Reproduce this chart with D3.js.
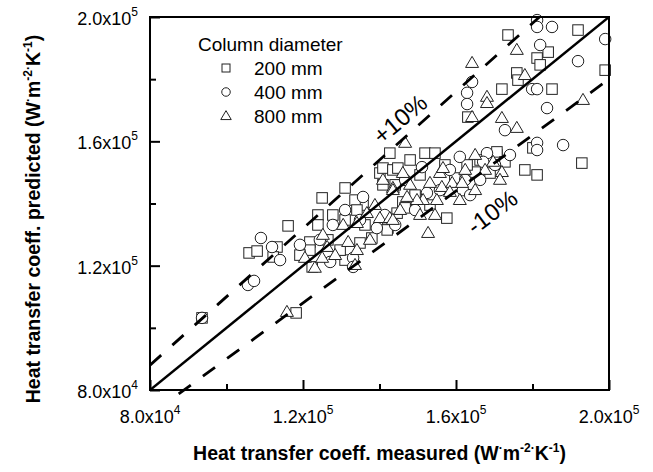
<!DOCTYPE html>
<html><head><meta charset="utf-8">
<script src="https://d3js.org/d3.v7.min.js"></script>
<style>
  body { margin: 0; background: #fff; }
  svg { display: block; font-family: "Liberation Sans", Arial, sans-serif; }
</style></head>
<body>
<svg width="653" height="472"></svg>
<script>
// all values in 10^3 W m^-2 K^-1, [measured, predicted]
const d200 = [[93.6,103.2],[105.9,124.1],[108.0,124.7],[113.2,126.0],[112.2,122.8],[116.1,132.8],[118.2,104.8],[125.0,141.8],
  [131.0,145.0],[123.9,136.3],[123.9,133.1],[127.8,136.3],[121.8,127.6],[121.8,125.0],[122.4,119.6],[131.0,134.7],[131.0,121.8],
  [134.9,127.3],[135.7,139.5],[133.6,141.1],[134.1,137.9],[142.2,132.1],[140.1,149.8],[140.9,151.4],[143.5,150.8],[140.9,146.0],
  [142.7,156.2],[144.8,151.4],[148.0,154.0],[151.9,156.2],[154.5,156.2],[146.1,140.5],[144.6,136.9],[142.0,131.5],[146.7,138.6],
  [157.6,135.3],[165.0,150.1],[168.9,149.8],[170.7,155.6],[173.6,194.2],[175.9,182.0],[176.2,179.7],[184.1,188.7],[181.2,186.8],
  [182.0,184.6],[191.9,195.8],[199.0,182.9],[172.0,176.8],[185.1,176.8],[163.1,167.8],[180.1,157.9],[178.0,150.8],[181.2,149.2],
  [192.9,153.0],[170.7,156.6],[136.2,133.1],[138.0,128.9],[144.1,146.0],[149.3,142.7],[150.6,149.2],[157.1,152.4],[159.7,148.2],
  [162.9,152.4],[166.3,154.0],[172.8,153.4],[153.2,139.5],[119.2,123.4],[126.5,128.3],[129.7,125.0]];
const d400 = [[93.6,103.2],[105.6,113.8],[107.2,115.1],[109.0,128.9],[111.9,126.0],[114.0,121.8],[127.8,133.1],[127.1,121.2],
  [133.1,122.5],[133.1,119.6],[131.0,137.9],[135.7,142.1],[139.3,132.1],[151.1,151.7],[152.4,143.4],[161.0,155.0],[168.1,156.2],
  [167.1,153.4],[162.4,147.6],[166.3,147.6],[161.8,144.3],[181.2,199.0],[181.2,196.8],[185.1,196.8],[199.0,192.9],[182.0,191.0],
  [191.9,185.8],[179.9,176.8],[181.2,176.8],[183.8,170.7],[172.8,163.6],[181.2,159.5],[181.2,157.2],[188.0,158.8],[164.2,179.1],
  [162.9,175.6],[162.9,172.0],[134.9,134.7],[141.4,136.3],[146.7,147.6],[155.8,144.3],[158.4,150.8],[163.7,142.7],[170.2,152.4],
  [174.1,155.6],[124.4,128.3],[119.2,126.7],[144.1,133.1],[149.3,137.9]];
const d800 = [[115.8,105.1],[125.2,129.9],[120.5,122.5],[125.0,122.5],[126.3,126.0],[131.8,127.6],[134.1,125.0],[130.5,133.1],
  [134.1,133.7],[136.7,136.9],[140.1,135.3],[142.7,135.3],[140.9,147.6],[143.5,145.0],[146.7,159.5],[146.1,149.8],[155.8,149.8],
  [156.6,151.4],[153.2,146.6],[156.3,145.3],[159.0,146.6],[151.4,141.1],[155.0,141.1],[149.8,141.1],[158.4,143.7],[165.0,155.6],
  [169.7,153.4],[172.0,150.1],[161.6,146.6],[152.7,130.5],[143.5,144.3],[147.2,142.1],[143.5,134.7],[164.2,185.2],[175.9,189.4],
  [178.0,181.3],[164.2,167.8],[168.1,174.3],[168.1,172.3],[172.0,167.5],[175.9,164.3],[193.2,173.3],[128.4,123.4],[137.5,128.3],
  [145.4,137.9],[148.0,146.0],[150.6,136.3],[161.0,141.1],[165.0,144.3],[167.6,150.8],[133.6,120.2],[123.1,119.3],[138.8,139.5],
  [154.5,136.3],[162.4,150.8],[171.5,147.6]];
const majorTicks = [80, 120, 160, 200];
const minorTicks = [100, 140, 180];
const legendTitle = "Column diameter";
const legendLabels = ["200 mm", "400 mm", "800 mm"];

const svg = d3.select("svg");
const m = { l: 150, t: 17, r: 609, b: 390 };
const x = d3.scaleLinear().domain([80, 200]).range([m.l, m.r]);
const y = d3.scaleLinear().domain([80, 200]).range([m.b, m.t]);

svg.append("clipPath").attr("id", "clip").append("rect")
  .attr("x", m.l).attr("y", m.t).attr("width", m.r - m.l).attr("height", m.b - m.t + 6);

// markers
const stroke = "#222";
function square(g, s) { g.append("rect").attr("x", -s/2).attr("y", -s/2).attr("width", s).attr("height", s); }
function circle(g, s) { g.append("circle").attr("r", s/2); }
function triangle(g, s) { const h = s * 0.85; g.append("path").attr("d", `M0,${-h*0.6}L${s/2},${h*0.4}L${-s/2},${h*0.4}Z`); }
const shapes = [square, circle, triangle];
const sizes = [10.5, 11.5, 13];

[d200, d400, d800].forEach((data, i) => {
  svg.append("g").selectAll("g").data(data).enter().append("g")
    .attr("transform", d => `translate(${x(d[0])},${y(d[1])})`)
    .attr("fill", "#fff").attr("stroke", stroke).attr("stroke-width", 1)
    .each(function () { shapes[i](d3.select(this), sizes[i]); });
});

// reference lines (y = x, +10 %, -10 %)
const lines = svg.append("g").attr("clip-path", "url(#clip)").attr("fill", "none").attr("stroke", "#000");
lines.append("line").attr("x1", x(80)).attr("y1", y(80)).attr("x2", x(200)).attr("y2", y(200)).attr("stroke-width", 2.5);
lines.append("line").attr("x1", x(80)).attr("y1", y(80 * 1.1)).attr("x2", x(200 / 1.1)).attr("y2", y(200))
  .attr("stroke-width", 2.8).attr("stroke-dasharray", "15,15");
lines.append("line").attr("x1", x(87.5)).attr("y1", y(87.5 * 0.9)).attr("x2", x(200)).attr("y2", y(200 * 0.9))
  .attr("stroke-width", 2.8).attr("stroke-dasharray", "15,15");

svg.append("text").attr("transform", "translate(400,119) rotate(-40)").attr("text-anchor", "middle")
  .attr("dy", "0.35em").attr("font-size", 24).text("+10%");
svg.append("text").attr("transform", "translate(492,212) rotate(-37)").attr("text-anchor", "middle")
  .attr("dy", "0.35em").attr("font-size", 24).text("-10%");

// axes
const ax = svg.append("g");
function ticks(axis, size) {
  return g => { g.call(axis.tickSize(size).tickFormat("")); g.select(".domain").remove();
    g.selectAll("line").attr("stroke", "#000").attr("stroke-width", 2); };
}
ax.append("g").attr("transform", `translate(0,${m.b})`).call(ticks(d3.axisBottom(x).tickValues(majorTicks), -10));
ax.append("g").attr("transform", `translate(0,${m.b})`).call(ticks(d3.axisBottom(x).tickValues(minorTicks), -6));
ax.append("g").attr("transform", `translate(${m.l},0)`).call(ticks(d3.axisLeft(y).tickValues(majorTicks), -10));
ax.append("g").attr("transform", `translate(${m.l},0)`).call(ticks(d3.axisLeft(y).tickValues(minorTicks), -6));
ax.append("rect").attr("x", m.l).attr("y", m.t).attr("width", m.r - m.l).attr("height", m.b - m.t)
  .attr("fill", "none").attr("stroke", "#000").attr("stroke-width", 2);

function sciParts(v) {
  const val = v * 1000, e = Math.floor(Math.log10(val));
  return [(val / Math.pow(10, e)).toFixed(1) + "x10", String(e)];
}
function tickLabel(px, py, anchor, v) {
  const p = sciParts(v);
  const t = svg.append("text").attr("x", px).attr("y", py).attr("text-anchor", anchor).attr("font-size", 18);
  t.append("tspan").text(p[0]);
  t.append("tspan").attr("dy", -9).attr("font-size", 12).text(p[1]);
}
majorTicks.forEach(v => tickLabel(x(v), 423, "middle", v));
majorTicks.forEach(v => tickLabel(m.l - 12, y(v) + 8, "end", v));

// axis titles with superscripts
function richText(t, parts) {
  let prevSup = 0;
  parts.forEach(([s, sup]) => {
    const dy = sup ? (prevSup ? 0 : -8) : (prevSup ? 8 : 0);
    t.append("tspan").attr("dy", dy).attr("font-size", sup ? 12 : null).text(s);
    prevSup = sup;
  });
}
const unit = [[" (W", 0], ["\u00b7", 1], ["m", 0], ["-2\u00b7", 1], ["K", 0], ["-1", 1], [")", 0]];
richText(svg.append("text").attr("x", (m.l + m.r) / 2).attr("y", 460).attr("text-anchor", "middle")
  .attr("font-size", 19.5).attr("font-weight", "bold"), [["Heat transfer coeff. measured", 0]].concat(unit));
richText(svg.append("text").attr("transform", "translate(40,219) rotate(-90)").attr("text-anchor", "middle")
  .attr("font-size", 19.5).attr("font-weight", "bold"), [["Heat transfer coeff. predicted", 0]].concat(unit));

// legend
const lg = svg.append("g");
lg.append("text").attr("x", 198).attr("y", 51).attr("font-size", 19).text(legendTitle);
legendLabels.forEach((s, i) => {
  const yy = 75 + i * 24;
  const g = lg.append("g").attr("transform", `translate(226,${yy - 7})`)
    .attr("fill", "#fff").attr("stroke", stroke).attr("stroke-width", 1);
  shapes[i](g, [8, 8.5, 10.5][i]);
  lg.append("text").attr("x", 254).attr("y", yy).attr("font-size", 19).text(s);
});
</script>
</body></html>
